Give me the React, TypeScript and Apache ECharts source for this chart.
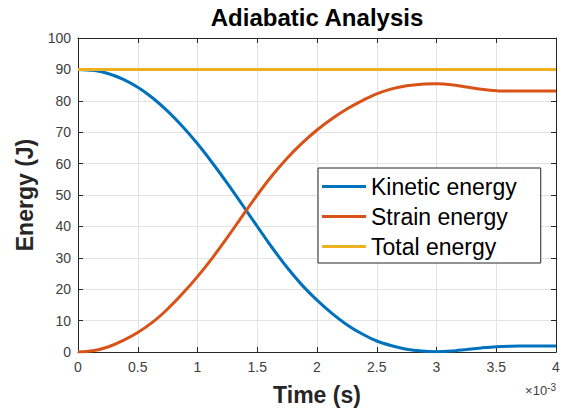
import React, { useEffect, useRef } from "react";
import * as echarts from "echarts";

const timeMs = [
  0, 0.125, 0.25, 0.375, 0.5, 0.625, 0.75, 0.875, 1.0, 1.125, 1.25, 1.375, 1.5, 1.625, 1.75, 1.875, 2.0,
  2.125, 2.25, 2.375, 2.5, 2.625, 2.75, 2.875, 3.0, 3.125, 3.25, 3.375, 3.5, 3.625, 3.75, 3.875, 4.0,
];
const kinetic = [
  90, 89.7, 88.7, 86.9, 84.3, 80.9, 76.7, 71.8, 66.3, 60.2, 53.7, 46.9, 40.0, 33.2, 26.9, 21.3, 16.5,
  12.3, 8.7, 5.8, 3.5, 2.0, 0.9, 0.3, 0.1, 0.3, 0.8, 1.3, 1.7, 1.85, 1.9, 1.9, 1.9,
];
const strain = [
  0, 0.4, 1.6, 3.6, 6.2, 9.5, 13.7, 18.6, 24.0, 30.0, 36.5, 43.3, 50.0, 56.2, 61.7, 66.5, 70.7,
  74.3, 77.4, 80.0, 82.2, 83.8, 84.8, 85.3, 85.4, 85.1, 84.4, 83.7, 83.2, 83.1, 83.1, 83.1, 83.1,
];
const total = [
  90, 90, 90, 90, 90, 90, 90, 90, 90, 90, 90, 90, 90, 90, 90, 90, 90,
  90, 90, 90, 90, 90, 90, 90, 90, 90, 90, 90, 90, 90, 90, 90, 90,
];
const seriesNames = ["Kinetic energy", "Strain energy", "Total energy"];
const seriesColors = ["#0072BD", "#D95319", "#EDB120"];

const FONT = "Liberation Sans, Arial, Helvetica, sans-serif";

export default function App() {
  const ref = useRef<HTMLDivElement>(null);
  useEffect(() => {
    if (!ref.current) return;
    const chart = echarts.init(ref.current, undefined, { renderer: "svg" });
    const mk = (ys: number[]) => timeMs.map((t, i) => [t, ys[i]]);
    const datasets = [kinetic, strain, total];
    const axisColor = "#262626";
    chart.setOption({
      animation: false,
      backgroundColor: "#ffffff",
      textStyle: { fontFamily: FONT },
      title: {
        text: "Adiabatic Analysis",
        left: 317,
        top: 5,
        textAlign: "center",
        padding: 0,
        textStyle: { fontSize: 24, fontWeight: "bold", color: "#000000", fontFamily: FONT },
      },
      grid: { left: 78, right: 12, top: 38, bottom: 54, containLabel: false },
      legend: {
        orient: "vertical",
        left: 318,
        top: 168,
        padding: [7, 24, 5, 4],
        itemGap: 7,
        itemWidth: 44,
        itemHeight: 3,
        icon: "rect",
        borderColor: "#262626",
        borderWidth: 1,
        backgroundColor: "#ffffff",
        borderRadius: 0,
        data: seriesNames,
        textStyle: { fontSize: 23, color: "#000000", fontFamily: FONT },
      },
      xAxis: [
        {
          type: "value",
          min: 0,
          max: 4,
          interval: 0.5,
          name: "Time (s)",
          nameLocation: "middle",
          nameGap: 31,
          nameTextStyle: { fontSize: 23, fontWeight: "bold", color: axisColor, fontFamily: FONT },
          axisLine: { show: true, onZero: false, lineStyle: { color: axisColor, width: 1 } },
          axisTick: { show: true, inside: true, length: 5, lineStyle: { color: axisColor } },
          axisLabel: { fontSize: 14, color: "#404040", margin: 8, formatter: (v: number) => String(v) },
          splitLine: { show: true, lineStyle: { color: "#e3e3e3", width: 1 } },
        },
        {
          type: "value",
          position: "top",
          min: 0,
          max: 4,
          interval: 0.5,
          axisLine: { show: true, onZero: false, lineStyle: { color: axisColor, width: 1 } },
          axisTick: { show: true, inside: true, length: 5, lineStyle: { color: axisColor } },
          axisLabel: { show: false },
          splitLine: { show: false },
        },
      ],
      yAxis: [
        {
          type: "value",
          min: 0,
          max: 100,
          interval: 10,
          name: "Energy (J)",
          nameLocation: "middle",
          nameGap: 40,
          nameTextStyle: { fontSize: 23, fontWeight: "bold", color: axisColor, fontFamily: FONT },
          axisLine: { show: true, onZero: false, lineStyle: { color: axisColor, width: 1 } },
          axisTick: { show: true, inside: true, length: 5, lineStyle: { color: axisColor } },
          axisLabel: { fontSize: 14, color: "#404040", margin: 7 },
          splitLine: { show: true, lineStyle: { color: "#e3e3e3", width: 1 } },
        },
        {
          type: "value",
          position: "right",
          min: 0,
          max: 100,
          interval: 10,
          axisLine: { show: true, onZero: false, lineStyle: { color: axisColor, width: 1 } },
          axisTick: { show: true, inside: true, length: 5, lineStyle: { color: axisColor } },
          axisLabel: { show: false },
          splitLine: { show: false },
        },
      ],
      graphic: [
        {
          type: "text",
          right: 12,
          top: 382,
          style: {
            text: "×10{sup|-3}",
            rich: { sup: { fontSize: 10, verticalAlign: "top", padding: [0, 0, 7, 0], fill: "#404040" } },
            fontSize: 13,
            fill: "#404040",
            fontFamily: FONT,
          },
        },
      ],
      series: datasets.map((ys, i) => ({
        name: seriesNames[i],
        type: "line",
        data: mk(ys),
        smooth: 0.3,
        showSymbol: false,
        symbol: "none",
        lineStyle: { width: 3, color: seriesColors[i] },
        itemStyle: { color: seriesColors[i] },
        xAxisIndex: 0,
        yAxisIndex: 0,
      })),
    });
    return () => chart.dispose();
  }, []);
  return <div ref={ref} style={{ position: "fixed", left: 0, top: 0, width: 568, height: 411 }} />;
}
